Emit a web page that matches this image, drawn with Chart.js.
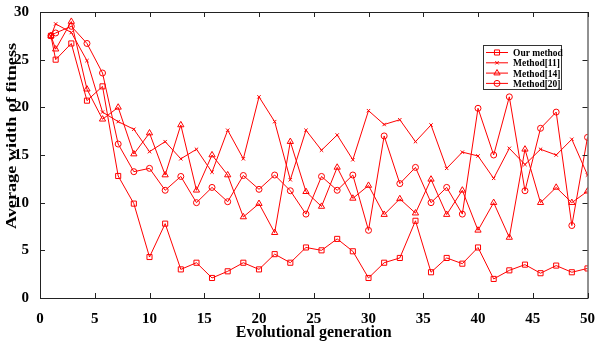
<!DOCTYPE html>
<html>
<head>
<meta charset="utf-8">
<script src="https://cdn.jsdelivr.net/npm/chart.js@4/dist/chart.umd.min.js"></script>
<style>
  html, body { margin: 0; padding: 0; background: #fff; }
  #wrap { width: 599px; height: 342px; }
</style>
</head>
<body>
<div id="wrap"><canvas id="chart"></canvas></div>
<script>
// generation at which each sample was taken
const generations = [1, 1.43, 2.86, 4.29, 5.71, 7.14, 8.57, 10, 11.43, 12.86, 14.29, 15.71,
    17.14, 18.57, 20, 21.43, 22.86, 24.29, 25.71, 27.14, 28.57, 30, 31.43, 32.86,
    34.29, 35.71, 37.14, 38.57, 40, 41.43, 42.86, 44.29, 45.71, 47.14, 48.57, 50];

const ourMethod = [27.5, 25.0, 26.7, 20.7, 22.2, 12.8, 9.9, 4.3, 7.8, 3.0, 3.7, 2.1,
    2.8, 3.7, 3.0, 4.6, 3.7, 5.3, 5.0, 6.2, 4.9, 2.1, 3.7, 4.2,
    8.1, 2.7, 4.2, 3.6, 5.3, 2.0, 2.9, 3.5, 2.6, 3.4, 2.7, 3.1];

const method11 = [27.5, 28.75, 27.85, 24.9, 19.5, 18.5, 17.7, 15.35, 16.4, 14.6, 15.6, 13.2,
    17.6, 14.6, 21.1, 18.5, 12.4, 17.6, 15.5, 17.1, 14.5, 19.65, 18.2, 18.7,
    16.4, 18.15, 13.6, 15.3, 14.9, 12.55, 15.7, 14.0, 15.6, 15.0, 16.65, 12.9];

const method14 = [27.5, 26.1, 29.0, 21.9, 18.75, 20.0, 15.1, 17.3, 12.9, 18.15, 11.3, 15.0,
    12.9, 8.5, 9.9, 6.85, 16.4, 11.15, 9.6, 13.7, 10.45, 11.8, 8.75, 10.4,
    8.9, 12.45, 8.75, 11.3, 7.1, 10.0, 6.35, 15.6, 10.0, 11.6, 10.0, 11.2];

const method20 = [27.5, 27.8, 28.5, 26.7, 23.6, 16.15, 13.25, 13.6, 11.3, 12.75, 10.0, 11.6,
    10.1, 12.85, 11.4, 12.9, 11.25, 8.8, 12.75, 11.3, 12.9, 7.1, 17.0, 12.0,
    13.7, 10.0, 11.6, 8.8, 19.9, 15.0, 21.1, 11.25, 17.8, 19.5, 7.6, 16.85];

const seriesNames = ["Our method", "Method[11]", "Method[14]", "Method[20]"];
const xTicks = [0, 5, 10, 15, 20, 25, 30, 35, 40, 45, 50];
const yTicks = [0, 5, 10, 15, 20, 25, 30];
const yTitle = "Average width of fitness";

const RED = "#ff0000";
const FONT = "'Liberation Serif', 'Times New Roman', serif";

const markerStyles = [
    { style: "rect", radius: 3.6 },
    { style: "crossRot", radius: 2.4 },
    { style: "triangle", radius: 3.6 },
    { style: "circle", radius: 3 }
];

function toPoints(values) {
    return generations.map((g, i) => ({ x: g, y: values[i] }));
}

const allSeries = [ourMethod, method11, method14, method20];

const datasets = allSeries.map((vals, i) => ({
    label: seriesNames[i],
    data: toPoints(vals),
    borderColor: RED,
    borderWidth: 1,
    backgroundColor: "rgba(0,0,0,0)",
    pointStyle: markerStyles[i].style,
    pointRadius: markerStyles[i].radius,
    pointBorderWidth: 1,
    pointBorderColor: RED,
    pointBackgroundColor: "rgba(0,0,0,0)",
    tension: 0
}));

// small marker painter for the legend
function drawMarker(ctx, style, r, x, y) {
    ctx.beginPath();
    if (style === "rect") {
        const s = Math.SQRT1_2 * r;
        ctx.rect(x - s, y - s, 2 * s, 2 * s);
    } else if (style === "crossRot") {
        const s = Math.SQRT1_2 * r;
        ctx.moveTo(x - s, y - s); ctx.lineTo(x + s, y + s);
        ctx.moveTo(x - s, y + s); ctx.lineTo(x + s, y - s);
    } else if (style === "triangle") {
        ctx.moveTo(x, y - r);
        ctx.lineTo(x + r * 0.866, y + r * 0.5);
        ctx.lineTo(x - r * 0.866, y + r * 0.5);
        ctx.closePath();
    } else {
        ctx.arc(x, y, r, 0, Math.PI * 2);
    }
    ctx.stroke();
}

// box, inward ticks on all sides, y title, legend
const framePlugin = {
    id: "frame",
    afterDraw(chart) {
        const ctx = chart.ctx;
        const a = chart.chartArea;
        const xs = chart.scales.x, ys = chart.scales.y;
        ctx.save();
        ctx.strokeStyle = "#222";
        ctx.lineWidth = 1;
        ctx.strokeRect(a.left + 0.5, a.top + 0.5, a.right - a.left, a.bottom - a.top);
        const len = 5;
        ctx.beginPath();
        xTicks.forEach(t => {
            const px = Math.round(xs.getPixelForValue(t)) + 0.5;
            ctx.moveTo(px, a.bottom); ctx.lineTo(px, a.bottom - len);
            ctx.moveTo(px, a.top); ctx.lineTo(px, a.top + len);
        });
        yTicks.forEach(t => {
            const py = Math.round(ys.getPixelForValue(t)) + 0.5;
            ctx.moveTo(a.left, py); ctx.lineTo(a.left + len, py);
            ctx.moveTo(a.right, py); ctx.lineTo(a.right - len, py);
        });
        ctx.stroke();

        // y title, a bit stretched along its length like the source figure
        ctx.save();
        ctx.translate(12, 136);
        ctx.rotate(-Math.PI / 2);
        ctx.scale(1.3, 1);
        ctx.font = "bold 14px " + FONT;
        ctx.fillStyle = "#000";
        ctx.textAlign = "center";
        ctx.textBaseline = "middle";
        ctx.fillText(yTitle, 0, 0);
        ctx.restore();

        // legend
        const bx = 483, by = 45, bw = 78, bh = 44;
        ctx.fillStyle = "#fff";
        ctx.fillRect(bx, by, bw, bh);
        ctx.strokeStyle = "#333";
        ctx.strokeRect(bx + 0.5, by + 0.5, bw, bh);
        seriesNames.forEach((name, i) => {
            const y = by + 7.5 + i * 10.3;
            ctx.strokeStyle = RED;
            ctx.lineWidth = 1;
            ctx.beginPath();
            ctx.moveTo(bx + 3, y); ctx.lineTo(bx + 25, y);
            ctx.stroke();
            drawMarker(ctx, markerStyles[i].style, markerStyles[i].radius, bx + 14, y);
            ctx.save();
            ctx.translate(bx + 30, y);
            ctx.scale(1, 1.2);
            ctx.font = "bold 9.5px " + FONT;
            ctx.textBaseline = "middle";
            ctx.fillStyle = "#000";
            ctx.fillText(name, 0, 0.5);
            ctx.restore();
        });
        ctx.restore();
    }
};

new Chart(document.getElementById("chart"), {
    type: "line",
    data: { datasets: datasets },
    options: {
        responsive: true,
        maintainAspectRatio: false,
        animation: false,
        layout: { padding: { top: 12, right: 6, left: 0, bottom: 0 } },
        plugins: {
            legend: { display: false },
            tooltip: { enabled: false }
        },
        scales: {
            x: {
                type: "linear",
                min: 0,
                max: 50,
                afterBuildTicks: s => { s.ticks = xTicks.map(v => ({ value: v })); },
                afterFit: s => { s.height = 44; },
                grid: { display: false },
                border: { display: false },
                ticks: { color: "#000", padding: 4, font: { family: FONT, size: 15, weight: "bold" } },
                title: {
                    display: true,
                    text: "Evolutional generation",
                    color: "#000",
                    padding: { top: 0, bottom: 0 },
                    font: { family: FONT, size: 16, weight: "bold" }
                }
            },
            y: {
                min: 0,
                max: 30,
                afterBuildTicks: s => { s.ticks = yTicks.map(v => ({ value: v })); },
                afterFit: s => { s.width = 40; },
                grid: { display: false },
                border: { display: false },
                ticks: { color: "#000", padding: 3, font: { family: FONT, size: 15, weight: "bold" } }
            }
        }
    },
    plugins: [framePlugin]
});
</script>
</body>
</html>
